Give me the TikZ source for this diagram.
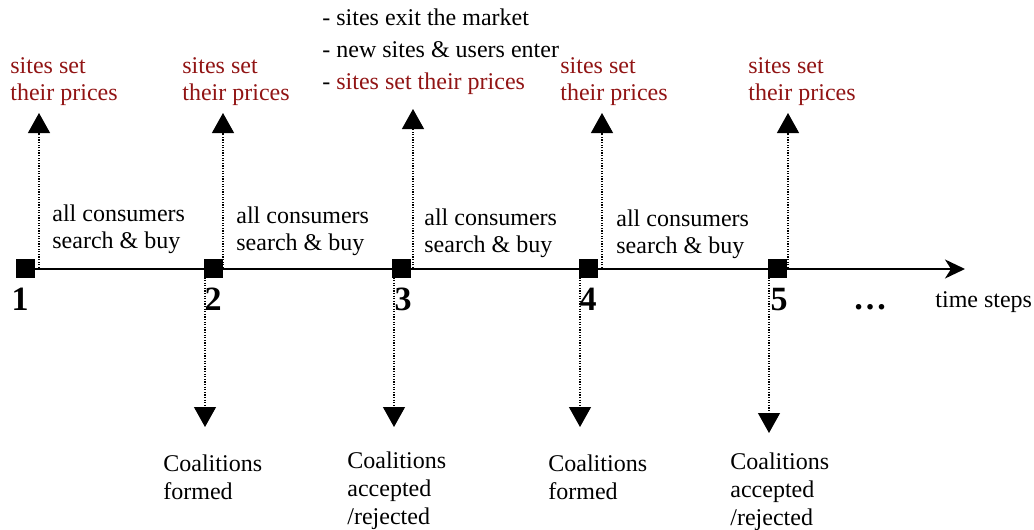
\documentclass[tikz,border=0pt]{standalone}
\usepackage{fontspec}
\setmainfont{Liberation Serif}
\usetikzlibrary{arrows.meta,positioning}
\definecolor{priceRed}{RGB}{145,20,20}
\tikzset{
  slot/.style={draw,fill=black,minimum size=9pt,inner sep=0pt},
  stepnum/.style={font=\fontsize{17}{20}\selectfont\bfseries,inner sep=0pt},
  lbl/.style={anchor=west,align=left,inner sep=0pt,font=\fontsize{12}{13.5}\selectfont},
  price/.style={lbl,text=priceRed},
  coal/.style={lbl,font=\fontsize{12}{14}\selectfont},
  event/.style={line width=0.6pt,dash pattern=on 0.6pt off 0.7pt,-{Triangle[width=11pt,length=10pt]}},
  timeline/.style={line width=1pt,-{Stealth[width=9.5pt,length=10pt,inset=3pt]}}
}
\begin{document}
\begin{tikzpicture}[x=0.5pt,y=-0.5pt]
      \useasboundingbox (0,0) rectangle (1034,530);
      % time line
      \coordinate (axisend) at (965,269);
      \draw[timeline] (25,269) -- (axisend);
      \node[slot] (t1) at (25,268) {};
      \node[slot] (t2) at (213,268) {};
      \node[slot] (t3) at (401,268) {};
      \node[slot] (t4) at (588,268) {};
      \node[slot] (t5) at (777,268) {};
      \node[stepnum,below=5pt of t1,xshift=-2.5pt] (n1) {1};
      \node[stepnum,below=5pt of t2] (n2) {2};
      \node[stepnum,below=5pt of t3,xshift=1pt] (n3) {3};
      \node[stepnum,below=5pt of t4] (n4) {4};
      \node[stepnum,below=5pt of t5,xshift=1pt] (n5) {5};
      \node[stepnum,anchor=base] (more) at (870,309) {\dots};
      \node[lbl] (steps) at (935,302) {time steps};
      % prices are set
      \coordinate (up1) at (39,113);
      \coordinate (up2) at (223,113);
      \coordinate (up3) at (413,109);
      \coordinate (up4) at (602,113);
      \coordinate (up5) at (788,113);
      \begin{scope}[event]
        \draw (up1 |- t1) to (up1);
        \draw (up2 |- t2) to (up2);
        \draw (up3 |- t3) to (up3);
        \draw (up4 |- t4) to (up4);
        \draw (up5 |- t5) to (up5);
      \end{scope}
      \node[price] (price1) at (10,81.5) {sites set\\their prices};
      \node[price] (price2) at (182,81.5) {sites set\\their prices};
      \node[price] (price4) at (560,81.5) {sites set\\their prices};
      \node[price] (price5) at (748,81.5) {sites set\\their prices};
      \node[lbl,font=\fontsize{12}{16}\selectfont] (market) at (322,52)
        {- sites exit the market\\- new sites \& users enter\\- \textcolor{priceRed}{sites set their prices}};
      % consumers buy
      \node[lbl] (buy1) at (52,229.5) {all consumers\\search \& buy};
      \node[lbl] (buy2) at (236,231.5) {all consumers\\search \& buy};
      \node[lbl] (buy3) at (424,233.5) {all consumers\\search \& buy};
      \node[lbl] (buy4) at (616,234.5) {all consumers\\search \& buy};
      % coalitions
      \coordinate (dn2) at (205,427);
      \coordinate (dn3) at (394,427);
      \coordinate (dn4) at (580,427);
      \coordinate (dn5) at (769,433);
      \begin{scope}[event]
        \draw (dn2 |- t2.south) to (dn2);
        \draw (dn3 |- t3.south) to (dn3);
        \draw (dn4 |- t4.south) to (dn4);
        \draw (dn5 |- t5.south) to (dn5);
      \end{scope}
      \node[coal] (coal2) at (163,477) {Coalitions\\formed};
      \node[coal] (coal3) at (347,491) {Coalitions\\accepted\\/rejected};
      \node[coal] (coal4) at (548,477.5) {Coalitions\\formed};
      \node[coal] (coal5) at (730,492) {Coalitions\\accepted\\/rejected};
    \end{tikzpicture}
\end{document}
